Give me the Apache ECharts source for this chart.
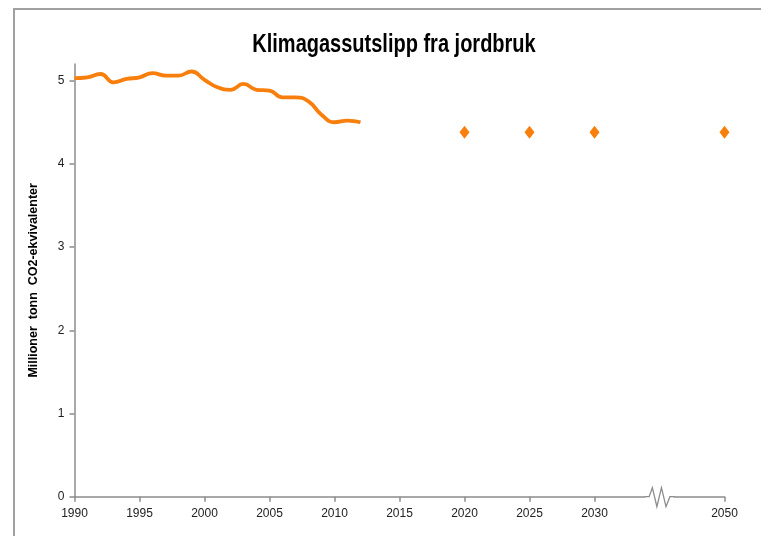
<!DOCTYPE html>
<html><head><meta charset="utf-8">
<script src="https://cdn.jsdelivr.net/npm/echarts@6/dist/echarts.min.js"></script>
<style>html,body{margin:0;padding:0;background:#fff}#c{width:761px;height:536px}</style>
</head><body><div id="c"></div>
<script>
const histYears = [1990,1991,1992,1993,1994,1995,1996,1997,1998,1999,2000,2001,2002,2003,2004,2005,2006,2007,2008,2009,2010,2011,2012];
const histValues = [5.03,5.04,5.08,4.98,5.02,5.04,5.09,5.06,5.06,5.11,5.01,4.92,4.89,4.96,4.89,4.88,4.80,4.80,4.75,4.59,4.50,4.52,4.50];
const targetYears = [2020,2025,2030,2050];
const targetValues = [4.38,4.38,4.38,4.38];
const xTickYears = [1990,1995,2000,2005,2010,2015,2020,2025,2030,2050];
const yTicks = [0,1,2,3,4,5];
const titleText = 'Klimagassutslipp fra jordbruk';
const yName = 'Millioner  tonn  CO2-ekvivalenter';

// axis is compressed after 2030 (break): 2050 sits where 2040 would be
const BREAK_AT = 2030;
function axisPos(y){ return y <= BREAK_AT ? y : BREAK_AT + (y - BREAK_AT) / 2; }
const posToLabel = {};
xTickYears.forEach(y => posToLabel[axisPos(y)] = String(y));

const chart = echarts.init(document.getElementById('c'));
const axisColor = '#8c8c8c';
const orange = '#F97F0C';
const lblFont = {color:'#222', fontSize:12, fontFamily:'"Liberation Sans",Arial,sans-serif'};
chart.setOption({
  animation:false,
  grid:{left:74.5, right:36.5, top:64, bottom:39.3},
  xAxis:{type:'value', min:1990, max:axisPos(2050),
    axisLine:{lineStyle:{color:axisColor, width:1.5}},
    axisTick:{customValues:xTickYears.map(axisPos), length:5, lineStyle:{color:axisColor, width:1.5}},
    axisLabel:{customValues:xTickYears.map(axisPos), formatter:v=>posToLabel[v]||'', margin:11, ...lblFont},
    splitLine:{show:false}},
  yAxis:{type:'value', min:0, max:5.2,
    name:yName, nameLocation:'middle', nameGap:34,
    nameTextStyle:{fontSize:12.5, fontWeight:'bold', color:'#000', fontFamily:'"Liberation Sans",Arial,sans-serif'},
    axisLine:{show:true, lineStyle:{color:axisColor, width:1.5}},
    axisTick:{show:true, customValues:yTicks, length:5, lineStyle:{color:axisColor, width:1.5}},
    axisLabel:{customValues:yTicks, margin:10, ...lblFont},
    splitLine:{show:false}},
  series:[
    {type:'line', data:histYears.map((y,i)=>[axisPos(y), histValues[i]]), smooth:0.5, showSymbol:false,
      lineStyle:{color:orange, width:3.8}, itemStyle:{color:orange}},
    {type:'scatter', data:targetYears.map((y,i)=>[axisPos(y), targetValues[i]]), symbol:'diamond', symbolSize:[10,13],
      itemStyle:{color:orange, opacity:1}}
  ]
});

// frame, condensed title and axis-break zigzag (break positioned via the axis scale)
const mid = (axisPos(2030) + axisPos(2050)) / 2;
const [cx, cy] = chart.convertToPixel({gridIndex:0}, [mid, 0]);
const u = (chart.convertToPixel({gridIndex:0}, [mid+1, 0])[0] - cx);
chart.setOption({graphic:[
  {type:'polyline', shape:{points:[[14,537],[14,9],[762,9]]}, style:{stroke:'#a0a0a0', lineWidth:2, fill:null}, silent:true},
  {type:'text', x:394, y:45, scaleX:0.8, style:{text:titleText, align:'center', verticalAlign:'middle',
    font:'bold 25px "Liberation Sans", Arial, sans-serif', fill:'#000'}, silent:true},
  {type:'line', shape:{x1:cx-1.1*u, y1:cy, x2:cx+1.1*u, y2:cy}, style:{stroke:'#fff', lineWidth:4}, z:100, silent:true},
  {type:'polyline', shape:{points:[[cx-1.15*u,cy],[cx-0.8*u,cy],[cx-0.55*u,cy-9],[cx-0.2*u,cy+10],[cx+0.15*u,cy-9],[cx+0.5*u,cy+10],[cx+0.8*u,cy],[cx+1.15*u,cy]]},
    style:{stroke:axisColor, lineWidth:1.3, fill:null}, z:101, silent:true}
]});
</script></body></html>
